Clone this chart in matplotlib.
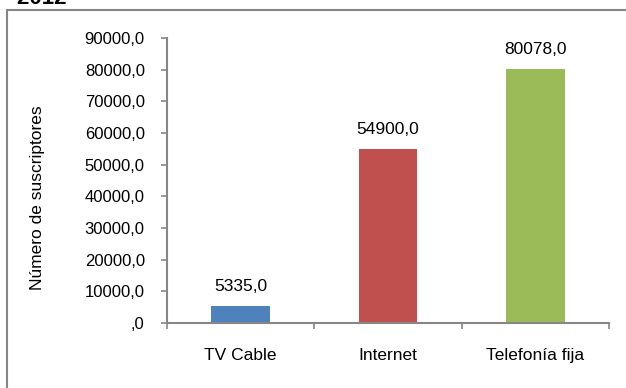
import matplotlib
matplotlib.use("Agg")
import matplotlib.pyplot as plt
from matplotlib.patches import Rectangle
from matplotlib.ticker import FuncFormatter, FixedLocator

plt.rcParams['font.family'] = ['Liberation Sans', 'DejaVu Sans']

categories = ["TV Cable", "Internet", "Telefonía fija"]
values = [5335.0, 54900.0, 80078.0]
colors = ["#4F81BD", "#C0504D", "#9BBB59"]
y_ticks = list(range(0, 90001, 10000))
title_text = "Suscriptores por servicio - 2012"

W, H = 626, 388
fig = plt.figure(figsize=(W / 100, H / 100), dpi=100)

# outer chart frame (runs off the right and bottom edges)
frame = Rectangle((7 / W, -0.05), 1.2, 1 - 10 / H + 0.05, transform=fig.transFigure,
                  fill=False, edgecolor="#868686", linewidth=1.5, clip_on=False)
fig.patches.append(frame)

# cut-off title at the top
fig.text(66 / W, 1 - 4 / H, title_text, ha="right", va="baseline",
         fontsize=16, fontweight="bold", color="black")

ax = fig.add_axes([167 / W, 1 - 323 / H, 442 / W, 285 / H])
x = list(range(len(categories)))
bars = ax.bar(x, values, width=0.4, color=colors, zorder=2)

ax.set_xlim(-0.5, len(categories) - 0.5)
ax.set_ylim(0, 90000)
ax.yaxis.set_major_locator(FixedLocator(y_ticks))


def fmt(v, pos):
    if v == 0:
        return ",0"
    return f"{v:.1f}".replace(".", ",")


ax.yaxis.set_major_formatter(FuncFormatter(fmt))

ax.set_xticks(x)
ax.set_xticklabels(categories)
ax.set_xticks([i - 0.5 for i in range(len(categories) + 1)], minor=True)
ax.tick_params(axis="x", which="major", length=0, pad=18, labelsize=12.5)
ax.tick_params(axis="x", which="minor", length=4, width=1.2, color="#868686", direction="out")
ax.tick_params(axis="y", length=4, width=1.2, color="#868686", pad=12, labelsize=12)

for s in ["top", "right"]:
    ax.spines[s].set_visible(False)
for s in ["left", "bottom"]:
    ax.spines[s].set_color("#868686")
    ax.spines[s].set_linewidth(1.5)

ax.set_ylabel("Número de suscriptores", fontsize=12.5)
ax.yaxis.set_label_coords((45 - 167) / 442, (323 - 198) / 285)

for b, v in zip(bars, values):
    ax.annotate(f"{v:.1f}".replace(".", ","), (b.get_x() + b.get_width() / 2, v),
                xytext=(0, 9), textcoords="offset points", ha="center", va="bottom",
                fontsize=12.5)

fig.savefig("out.png", dpi=100)
